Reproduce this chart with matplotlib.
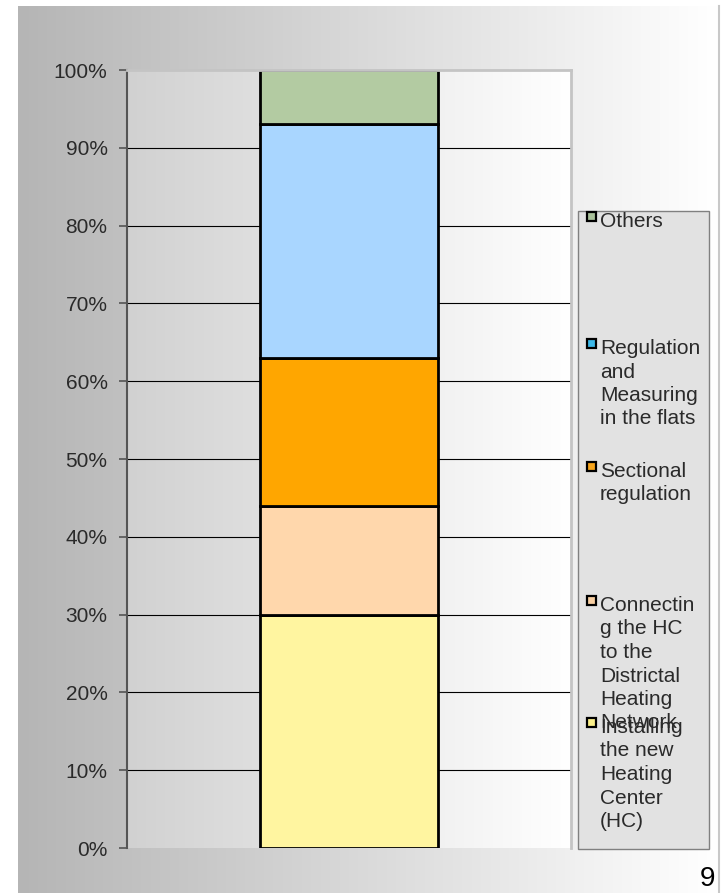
import numpy as np
import matplotlib
matplotlib.use("Agg")
import matplotlib.pyplot as plt
from matplotlib.patches import Rectangle
from matplotlib.ticker import PercentFormatter

plt.rcParams['font.family'] = ['Liberation Sans', 'DejaVu Sans']

# Cost shares of the refurbishment measures (stacked, bottom to top)
categories = [
    "Installing the new Heating Center (HC)",
    "Connecting the HC to the Districtal Heating Network",
    "Sectional regulation",
    "Regulation and Measuring in the flats",
    "Others",
]
shares = [30, 14, 19, 30, 7]
bar_colors = ["#fff5a0", "#ffd7ac", "#ffa600", "#a9d6ff", "#b3cba2"]
legend_colors = ["#fbf08a", "#f8cfa2", "#f7a51c", "#3cb8e8", "#a9c19a"]
legend_text = [
    "Installing\nthe new\nHeating\nCenter\n(HC)",
    "Connectin\ng the HC\nto the\nDistrictal\nHeating\nNetwork",
    "Sectional\nregulation",
    "Regulation\nand\nMeasuring\nin the flats",
    "Others",
]
y_ticks = [0, 10, 20, 30, 40, 50, 60, 70, 80, 90, 100]
page_number = "9"

W, H = 724, 893
fig = plt.figure(figsize=(W / 100, H / 100), dpi=100)
fig.patch.set_facecolor("white")


def px_rect(x0, y0, x1, y1):
    """Figure-fraction rectangle from pixel box (top-left origin)."""
    return [x0 / W, 1 - y1 / H, (x1 - x0) / W, (y1 - y0) / H]


# Slide background: horizontal grey-to-white gradient
bg = fig.add_axes(px_rect(18, 6, 718, 893), zorder=0)
grad = np.linspace(0.71, 1.0, 256)[None, :]
bg.imshow(np.dstack([grad, grad, grad]), aspect="auto", extent=(0, 1, 0, 1))
bg.set_axis_off()

# Plot area
ax = fig.add_axes(px_rect(127, 70, 571, 848), zorder=1)
pgrad = np.linspace(0.82, 1.0, 256)[None, :]
ax.imshow(np.dstack([pgrad, pgrad, pgrad]), aspect="auto",
          extent=(-0.5, 0.5, 0, 100), zorder=0)
ax.set_xlim(-0.5, 0.5)
ax.set_ylim(0, 100)

for t in y_ticks[1:-1]:
    ax.axhline(t, color="black", lw=0.8, zorder=1)

bottom = 0
for val, col in zip(shares, bar_colors):
    ax.bar(0, val, width=0.4, bottom=bottom, color=col,
           edgecolor="black", linewidth=2.0, zorder=2)
    bottom += val

ax.set_yticks(y_ticks)
ax.yaxis.set_major_formatter(PercentFormatter(decimals=0))
ax.tick_params(axis="y", direction="out", length=6, width=1.2,
               color="#555555", labelsize=15, labelcolor="#2a2a2a", pad=8)
ax.set_xticks([])
ax.spines["left"].set_color("#555555")
ax.spines["left"].set_linewidth(1.5)
ax.spines["bottom"].set_visible(False)
for s in ("top", "right"):
    ax.spines[s].set_color("#c4c4c4")
    ax.spines[s].set_linewidth(2.0)

# Overlay in pixel coordinates for the legend box and page number
ov = fig.add_axes([0, 0, 1, 1], zorder=3)
ov.set_xlim(0, W)
ov.set_ylim(H, 0)
ov.set_axis_off()
ov.patch.set_alpha(0)

ov.add_patch(Rectangle((578, 211), 131, 638, facecolor="#e2e2e2",
                       edgecolor="#808080", linewidth=1.0))
ov.plot([718.5, 718.5], [6, 893], color="#c8c8c8", lw=1.5)

entry_top = [722, 600, 466, 343, 216]
for txt, col, yt in zip(legend_text, legend_colors, entry_top):
    ov.add_patch(Rectangle((587, yt - 4), 9, 9, facecolor=col,
                           edgecolor="black", linewidth=1.6))
    ov.text(600, yt - 4, txt, fontsize=15, color="#2a2a2a",
            va="top", ha="left", linespacing=1.3)

ov.text(700, 892, page_number, fontsize=20, color="black",
        va="bottom", ha="left")

fig.savefig("out.png", dpi=100)
